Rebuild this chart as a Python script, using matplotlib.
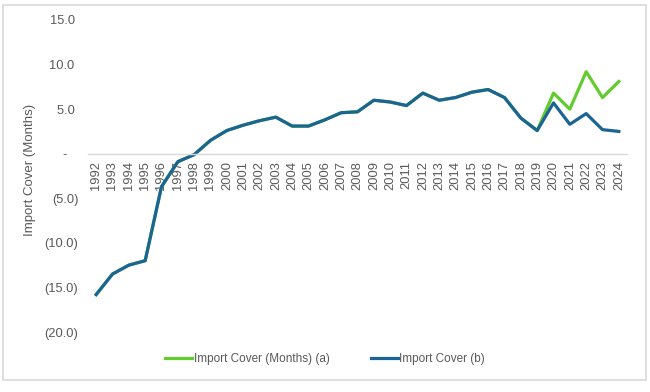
import matplotlib.pyplot as plt
import matplotlib.ticker as mticker
from matplotlib.patches import Rectangle

plt.rcParams['font.family'] = ['Liberation Sans', 'DejaVu Sans']

years = list(range(1992, 2025))
# import cover (b)
cover_b = [-15.8, -13.5, -12.5, -12.0, -3.7, -0.9, -0.1, 1.5, 2.6, 3.2,
           3.7, 4.1, 3.1, 3.1, 3.8, 4.6, 4.7, 6.0, 5.8, 5.4,
           6.8, 6.0, 6.3, 6.9, 7.2, 6.3, 4.0, 2.6, 5.7, 3.3,
           4.5, 2.7, 2.5]
# import cover in months (a) - same as (b) up to 2019
cover_a = cover_b[:28] + [6.8, 5.0, 9.2, 6.3, 8.1]

green = '#62CC2E'
blue = '#1B6494'
txt = '#595959'

fig = plt.figure(figsize=(6.5, 3.92), dpi=100)
fig.patches.append(Rectangle((3/650, 1-380/392), 643/650, 375/392,
                             transform=fig.transFigure, fill=False,
                             edgecolor='#D9D9D9', linewidth=1.2))
ax = fig.add_axes([88/650, 1-332/392, 539/650, 312/392])

ax.plot(years, cover_a, color=green, lw=2.3, label='Import Cover (Months) (a)')
ax.plot(years, cover_b, color=blue, lw=2.3, label='Import Cover (b)')

# axis line through zero (resets ticks, so do it first)
for s in ['top', 'right', 'left']:
    ax.spines[s].set_visible(False)
ax.spines['bottom'].set_position(('data', 0))
ax.spines['bottom'].set_color('#D9D9D9')
ax.spines['bottom'].set_linewidth(1.0)

ax.set_xlim(1991.5, 2024.5)
ax.set_ylim(-20, 15)
ax.set_yticks([15, 10, 5, 0, -5, -10, -15, -20])

def fmt(v, pos):
    if abs(v) < 1e-9:
        return '-   '
    if v < 0:
        return '(%.1f)' % abs(v)
    return '%.1f ' % v
ax.yaxis.set_major_formatter(mticker.FuncFormatter(fmt))

ax.set_xticks(years)
ax.set_xticklabels([str(y) for y in years])
ax.tick_params(axis='x', length=0, pad=5, labelsize=9.3, colors=txt,
               labelrotation=90)
ax.tick_params(axis='y', length=0, pad=7, labelsize=9.3, colors=txt)

fig.text(30/650, 1-170/392, 'Import Cover (Months)', rotation=90,
         ha='center', va='center', fontsize=9.5, color=txt)

fig.legend(loc='center', bbox_to_anchor=(325/650, 1-359/392), ncol=2,
           frameon=False, fontsize=8.5, handlelength=2.3, handletextpad=0.1,
           columnspacing=3.5, labelcolor=txt)

fig.savefig('out.png', dpi=100)
